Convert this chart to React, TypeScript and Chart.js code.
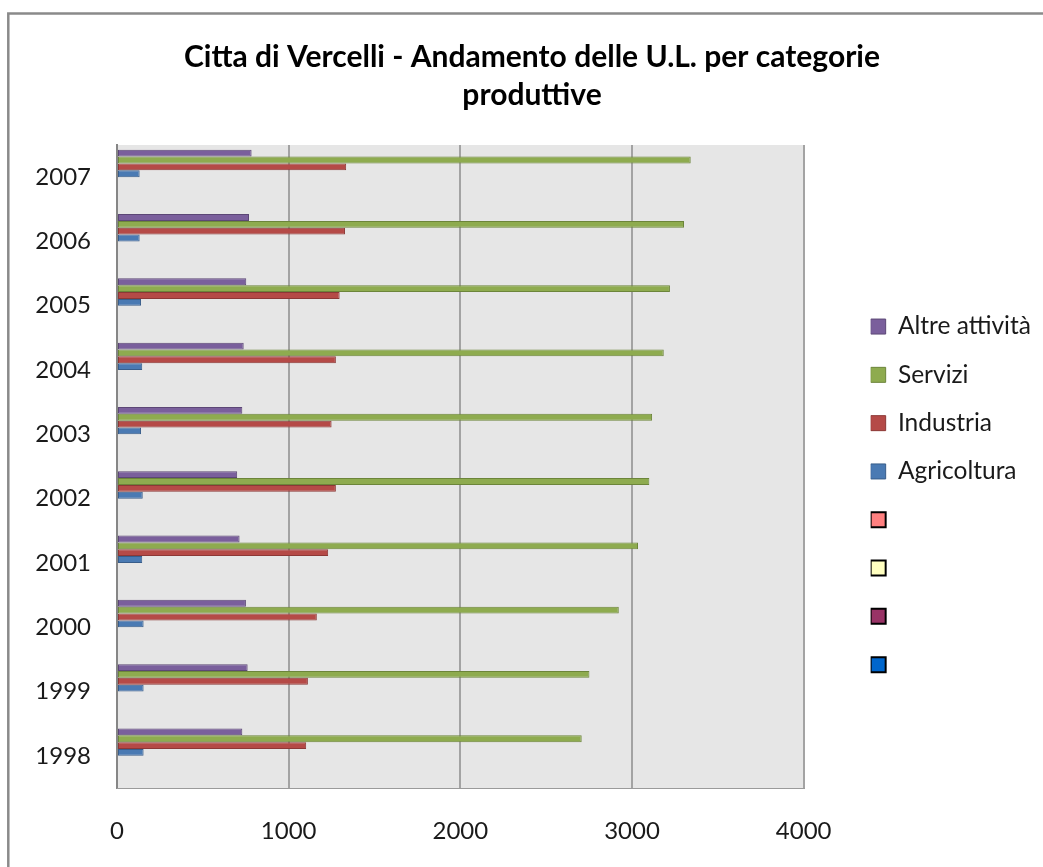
import React, { useEffect, useRef } from 'react';
import { Chart, registerables } from 'chart.js';

Chart.register(...registerables);

// Years, oldest first
const YEARS = ['1998', '1999', '2000', '2001', '2002', '2003', '2004', '2005', '2006', '2007'];

// Local units (U.L.) per productive category
const AGRICOLTURA = [155, 155, 155, 147, 150, 140, 147, 140, 132, 132];
const INDUSTRIA = [1102, 1112, 1164, 1230, 1275, 1250, 1275, 1297, 1328, 1335];
const SERVIZI = [2707, 2752, 2923, 3035, 3101, 3117, 3185, 3221, 3303, 3342];
const ALTRE = [730, 761, 751, 714, 700, 730, 738, 753, 769, 784];

const SERIES_NAMES = ['Altre attività', 'Servizi', 'Industria', 'Agricoltura'];

const X_MIN = 0;
const X_MAX = 4000;
const X_STEP = 1000;

const TITLE_LINES = ['Citta di Vercelli - Andamento delle U.L. per categorie', 'produttive'];

const FONT = "Lato, 'Open Sans', 'DejaVu Sans', sans-serif";
const TEXT = '#1a1a1a';

// Canvas is larger than the visible window; the frame runs off the edges
const W = 1064;
const H = 1015;

// layout targets (canvas pixels)
const PLOT_LEFT = 117;
const PLOT_BOTTOM = 788;
const LEGEND_LEFT = 872;
const LEGEND_GAP = LEGEND_LEFT - 805;
const TITLE_CENTER = 532;

const LEGEND_FONT_SIZE = 24.5;
const LEGEND_ROW = 48.3;
const LEGEND_BOX = 15;

const chartFrame = {
  id: 'chartFrame',
  beforeDraw(chart: any) {
    const { ctx, chartArea } = chart;
    ctx.save();
    ctx.fillStyle = '#ffffff';
    ctx.fillRect(0, 0, chart.width, chart.height);
    ctx.strokeStyle = '#8a8a8a';
    ctx.lineWidth = 2.5;
    ctx.strokeRect(8.3, 13.5, 3000, 3000);
    ctx.fillStyle = '#e6e6e6';
    ctx.fillRect(chartArea.left, chartArea.top, chartArea.right - chartArea.left, chartArea.bottom - chartArea.top);
    ctx.restore();
  },
};

export default function App() {
  const ref = useRef<HTMLCanvasElement | null>(null);

  useEffect(() => {
    if (!ref.current) return;
    // top-to-bottom order of the category axis: newest year first
    const labels = [...YEARS].reverse();
    const rev = (a: number[]) => [...a].reverse();

    // side paddings, refined once the legend width is known
    const pad = { left: 28, right: W - LEGEND_LEFT - 164, top: 0, bottom: 0 };

    const bar = (label: string, data: number[], fill: string, border: string) => ({
      label,
      data,
      backgroundColor: fill,
      borderColor: border,
      borderWidth: 1,
      borderSkipped: false,
      yAxisID: 'y',
    });
    const empty = (fill: string) => ({
      label: '',
      data: [] as number[],
      backgroundColor: fill,
      borderColor: '#000000',
      borderWidth: 2,
      yAxisID: 'y',
    });

    const defaultLabels = (Chart as any).defaults.plugins.legend.labels.generateLabels;

    const chart = new Chart(ref.current, {
      type: 'bar',
      data: {
        labels,
        datasets: [
          bar(SERIES_NAMES[0], rev(ALTRE), '#7a5f9c', '#5c4776'),
          bar(SERIES_NAMES[1], rev(SERVIZI), '#8eab4f', '#6c853a'),
          bar(SERIES_NAMES[2], rev(INDUSTRIA), '#b54a47', '#8c3836'),
          bar(SERIES_NAMES[3], rev(AGRICOLTURA), '#4a7ab3', '#385d8a'),
          empty('#ff8080'),
          empty('#ffffc0'),
          empty('#993366'),
          empty('#0066cc'),
        ] as any,
      },
      options: {
        indexAxis: 'y',
        responsive: false,
        animation: false,
        devicePixelRatio: 1,
        layout: { padding: { ...pad } },
        datasets: {
          bar: { categoryPercentage: 0.852, barPercentage: 1 },
        },
        scales: {
          y: {
            type: 'category',
            position: 'left',
            grid: { display: false, drawTicks: false },
            border: { display: true, color: '#868686', width: 2 },
            ticks: { color: TEXT, padding: 26, font: { family: FONT, size: 24 } },
            afterFit: (s: any) => { s.width = PLOT_LEFT - pad.left; },
          },
          x: {
            type: 'linear',
            position: 'bottom',
            min: X_MIN,
            max: X_MAX,
            grid: { color: '#a3a3a3', lineWidth: 2, drawTicks: false },
            border: { display: true, color: '#9a9a9a', width: 1 },
            ticks: {
              stepSize: X_STEP,
              color: TEXT,
              padding: 29,
              font: { family: FONT, size: 24 },
              callback: (v: any) => String(v),
            },
            afterFit: (s: any) => { s.height = H - PLOT_BOTTOM; },
          },
          // spacer between plot area and legend
          yPad: {
            type: 'category',
            position: 'right',
            display: true,
            grid: { display: false, drawTicks: false },
            border: { display: false },
            ticks: { display: false },
            afterFit: (s: any) => { s.width = LEGEND_GAP; },
          },
        } as any,
        plugins: {
          title: {
            display: true,
            text: TITLE_LINES,
            color: '#000000',
            font: { family: FONT, size: 30, weight: 'bold', lineHeight: 38 / 30 },
            padding: { top: 38, bottom: 31 },
          },
          legend: {
            display: true,
            position: 'right',
            labels: {
              boxWidth: LEGEND_BOX,
              boxHeight: LEGEND_BOX,
              padding: 0,
              color: TEXT,
              font: { family: FONT, size: LEGEND_FONT_SIZE, lineHeight: LEGEND_ROW / LEGEND_FONT_SIZE },
              // one-line arrays so each row takes the font's line height
              generateLabels: (c: any) => defaultLabels(c).map((it: any) => ({ ...it, text: [it.text] })),
            },
          },
          tooltip: { enabled: false },
        },
      } as any,
      plugins: [chartFrame],
    });

    // place the legend and centre the title now that the legend width is measured
    const lw = (chart as any).legend ? (chart as any).legend.width : 164;
    pad.right = W - LEGEND_LEFT - lw;
    pad.left = Math.max(0, Math.min(34, 2 * TITLE_CENTER - LEGEND_LEFT - lw));
    (chart.options as any).layout.padding = { ...pad };
    chart.update();

    return () => chart.destroy();
  }, []);

  return (
    <div style={{ position: 'fixed', left: 0, top: 0, width: 1043, height: 867, overflow: 'hidden', background: '#fff' }}>
      <canvas ref={ref} width={W} height={H} style={{ display: 'block', width: W, height: H }} />
    </div>
  );
}
